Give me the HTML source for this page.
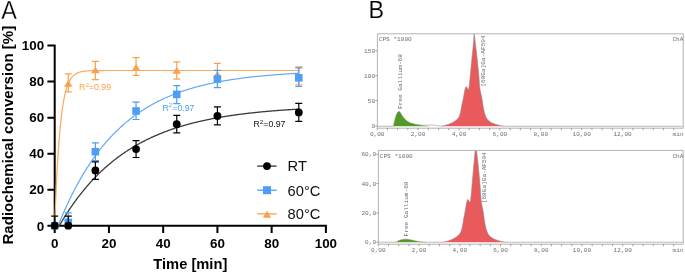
<!DOCTYPE html><html><head><meta charset="utf-8"><style>html,body{margin:0;padding:0;background:#fff;}svg{display:block;will-change:transform;}</style></head><body>
<svg width="685" height="275" viewBox="0 0 685 275">
<rect width="685" height="275" fill="#fff"/>
<text transform="translate(1.2,18.6) scale(0.92,1)" x="0" y="0" font-family="&quot;Liberation Sans&quot;, sans-serif" font-size="25.5" fill="#000" stroke="#fff" stroke-width="0.3">A</text>
<text transform="translate(13.1,135.15) rotate(-90)" text-anchor="middle" font-family="&quot;Liberation Sans&quot;, sans-serif" font-weight="bold" font-size="15.1" fill="#000">Radiochemical conversion [%]</text>
<text x="190.3" y="269.3" text-anchor="middle" font-family="&quot;Liberation Sans&quot;, sans-serif" font-weight="bold" font-size="14.7" fill="#000">Time [min]</text>
<path d="M54.7,45.6 L54.7,225.7 L325.9,225.7 M48.4,225.7 L54.7,225.7 M48.4,189.68 L54.7,189.68 M48.4,153.66 L54.7,153.66 M48.4,117.64 L54.7,117.64 M48.4,81.62 L54.7,81.62 M48.4,45.6 L54.7,45.6 M54.7,225.7 L54.7,231.9 M108.94,225.7 L108.94,231.9 M163.18,225.7 L163.18,231.9 M217.42,225.7 L217.42,231.9 M271.66,225.7 L271.66,231.9 M325.9,225.7 L325.9,231.9" stroke="#000" stroke-width="2" fill="none" stroke-linecap="square"/>
<text x="44.2" y="230.5" text-anchor="end" font-family="&quot;Liberation Sans&quot;, sans-serif" font-weight="bold" font-size="13.4" fill="#000">0</text>
<text x="44.2" y="194.48" text-anchor="end" font-family="&quot;Liberation Sans&quot;, sans-serif" font-weight="bold" font-size="13.4" fill="#000">20</text>
<text x="44.2" y="158.46" text-anchor="end" font-family="&quot;Liberation Sans&quot;, sans-serif" font-weight="bold" font-size="13.4" fill="#000">40</text>
<text x="44.2" y="122.44" text-anchor="end" font-family="&quot;Liberation Sans&quot;, sans-serif" font-weight="bold" font-size="13.4" fill="#000">60</text>
<text x="44.2" y="86.42" text-anchor="end" font-family="&quot;Liberation Sans&quot;, sans-serif" font-weight="bold" font-size="13.4" fill="#000">80</text>
<text x="44.2" y="50.4" text-anchor="end" font-family="&quot;Liberation Sans&quot;, sans-serif" font-weight="bold" font-size="13.4" fill="#000">100</text>
<text x="54.7" y="247.8" text-anchor="middle" font-family="&quot;Liberation Sans&quot;, sans-serif" font-weight="bold" font-size="13.4" fill="#000">0</text>
<text x="108.94" y="247.8" text-anchor="middle" font-family="&quot;Liberation Sans&quot;, sans-serif" font-weight="bold" font-size="13.4" fill="#000">20</text>
<text x="163.18" y="247.8" text-anchor="middle" font-family="&quot;Liberation Sans&quot;, sans-serif" font-weight="bold" font-size="13.4" fill="#000">40</text>
<text x="217.42" y="247.8" text-anchor="middle" font-family="&quot;Liberation Sans&quot;, sans-serif" font-weight="bold" font-size="13.4" fill="#000">60</text>
<text x="271.66" y="247.8" text-anchor="middle" font-family="&quot;Liberation Sans&quot;, sans-serif" font-weight="bold" font-size="13.4" fill="#000">80</text>
<text x="325.9" y="247.8" text-anchor="middle" font-family="&quot;Liberation Sans&quot;, sans-serif" font-weight="bold" font-size="13.4" fill="#000">100</text>
<path d="M54.7,225.7 L54.84,221.85 L54.98,218.09 L55.11,214.43 L55.25,210.85 L55.39,207.37 L55.53,203.97 L55.67,200.66 L55.8,197.43 L55.94,194.28 L56.08,191.2 L56.22,188.21 L56.35,185.29 L56.49,182.44 L56.63,179.66 L56.77,176.95 L56.91,174.31 L57.04,171.73 L57.18,169.22 L57.32,166.77 L57.46,164.38 L57.6,162.05 L57.73,159.77 L57.87,157.56 L58.01,155.4 L58.15,153.29 L58.29,151.23 L58.42,149.23 L58.56,147.27 L58.7,145.37 L58.84,143.51 L58.97,141.7 L59.11,139.93 L59.25,138.21 L59.39,136.53 L59.53,134.89 L59.66,133.29 L59.8,131.73 L59.94,130.21 L60.08,128.73 L60.22,127.28 L60.35,125.87 L60.49,124.5 L60.63,123.16 L60.77,121.85 L60.91,120.58 L61.04,119.33 L61.18,118.12 L61.32,116.94 L61.46,115.79 L61.59,114.66 L61.73,113.57 L61.87,112.5 L62.01,111.46 L62.15,110.44 L62.28,109.45 L62.42,108.48 L62.56,107.54 L62.7,106.62 L62.84,105.72 L63.43,102.12 L64.02,98.89 L64.61,95.99 L65.2,93.39 L65.79,91.05 L66.38,88.95 L66.98,87.07 L67.57,85.37 L68.16,83.85 L68.75,82.49 L69.34,81.27 L69.93,80.17 L70.52,79.18 L71.11,78.29 L71.71,77.5 L72.3,76.78 L72.89,76.14 L73.48,75.57 L74.07,75.05 L74.66,74.59 L75.25,74.17 L75.85,73.79 L76.44,73.46 L77.03,73.16 L77.62,72.89 L78.21,72.64 L78.8,72.42 L79.39,72.23 L79.98,72.05 L80.58,71.9 L81.17,71.75 L81.76,71.63 L82.35,71.51 L82.94,71.41 L83.53,71.32 L84.12,71.23 L84.72,71.16 L85.31,71.09 L85.9,71.03 L86.49,70.98 L87.08,70.93 L87.67,70.89 L88.26,70.85 L88.85,70.81 L89.45,70.78 L90.04,70.76 L90.63,70.73 L91.22,70.71 L91.81,70.69 L92.4,70.67 L92.99,70.65 L93.59,70.64 L94.18,70.62 L94.77,70.61 L95.36,70.6 L95.95,70.59 L96.54,70.58 L97.13,70.58 L97.72,70.57 L98.32,70.56 L98.91,70.56 L99.5,70.55 L100.09,70.55 L100.68,70.54 L101.27,70.54 L101.86,70.54 L102.46,70.53 L103.05,70.53 L103.64,70.53 L104.23,70.53 L104.82,70.52 L105.41,70.52 L106,70.52 L106.6,70.52 L107.19,70.52 L107.78,70.52 L108.37,70.52 L108.96,70.52 L109.55,70.51 L110.14,70.51 L110.73,70.51 L111.33,70.51 L111.92,70.51 L112.51,70.51 L113.1,70.51 L113.69,70.51 L114.28,70.51 L114.87,70.51 L115.47,70.51 L116.06,70.51 L116.65,70.51 L117.24,70.51 L117.83,70.51 L118.42,70.51 L119.01,70.51 L119.6,70.51 L120.2,70.51 L120.79,70.51 L121.38,70.51 L121.97,70.51 L122.56,70.51 L123.15,70.51 L123.74,70.51 L124.34,70.51 L124.93,70.51 L125.52,70.51 L126.11,70.51 L126.7,70.51 L127.29,70.51 L127.88,70.51 L128.47,70.51 L129.07,70.51 L129.66,70.51 L130.25,70.51 L130.84,70.51 L131.43,70.51 L132.02,70.51 L132.61,70.51 L133.21,70.51 L133.8,70.51 L134.39,70.51 L134.98,70.51 L135.57,70.51 L136.16,70.51 L136.75,70.51 L137.34,70.51 L137.94,70.51 L138.53,70.51 L139.12,70.51 L139.71,70.51 L140.3,70.51 L140.89,70.51 L141.48,70.51 L142.08,70.51 L142.67,70.51 L143.26,70.51 L143.85,70.51 L144.44,70.51 L145.03,70.51 L145.62,70.51 L146.21,70.51 L146.81,70.51 L147.4,70.51 L147.99,70.51 L148.58,70.51 L149.17,70.51 L149.76,70.51 L150.35,70.51 L150.95,70.51 L151.54,70.51 L152.13,70.51 L152.72,70.51 L153.31,70.51 L153.9,70.51 L154.49,70.51 L155.08,70.51 L155.68,70.51 L156.27,70.51 L156.86,70.51 L157.45,70.51 L158.04,70.51 L158.63,70.51 L159.22,70.51 L159.82,70.51 L160.41,70.51 L161,70.51 L161.59,70.51 L162.18,70.51 L162.77,70.51 L163.36,70.51 L163.95,70.51 L164.55,70.51 L165.14,70.51 L165.73,70.51 L166.32,70.51 L166.91,70.51 L167.5,70.51 L168.09,70.51 L168.69,70.51 L169.28,70.51 L169.87,70.51 L170.46,70.51 L171.05,70.51 L171.64,70.51 L172.23,70.51 L172.82,70.51 L173.42,70.51 L174.01,70.51 L174.6,70.51 L175.19,70.51 L175.78,70.51 L176.37,70.51 L176.96,70.51 L177.56,70.51 L178.15,70.51 L178.74,70.51 L179.33,70.51 L179.92,70.51 L180.51,70.51 L181.1,70.51 L181.7,70.51 L182.29,70.51 L182.88,70.51 L183.47,70.51 L184.06,70.51 L184.65,70.51 L185.24,70.51 L185.83,70.51 L186.43,70.51 L187.02,70.51 L187.61,70.51 L188.2,70.51 L188.79,70.51 L189.38,70.51 L189.97,70.51 L190.57,70.51 L191.16,70.51 L191.75,70.51 L192.34,70.51 L192.93,70.51 L193.52,70.51 L194.11,70.51 L194.7,70.51 L195.3,70.51 L195.89,70.51 L196.48,70.51 L197.07,70.51 L197.66,70.51 L198.25,70.51 L198.84,70.51 L199.44,70.51 L200.03,70.51 L200.62,70.51 L201.21,70.51 L201.8,70.51 L202.39,70.51 L202.98,70.51 L203.57,70.51 L204.17,70.51 L204.76,70.51 L205.35,70.51 L205.94,70.51 L206.53,70.51 L207.12,70.51 L207.71,70.51 L208.31,70.51 L208.9,70.51 L209.49,70.51 L210.08,70.51 L210.67,70.51 L211.26,70.51 L211.85,70.51 L212.44,70.51 L213.04,70.51 L213.63,70.51 L214.22,70.51 L214.81,70.51 L215.4,70.51 L215.99,70.51 L216.58,70.51 L217.18,70.51 L217.77,70.51 L218.36,70.51 L218.95,70.51 L219.54,70.51 L220.13,70.51 L220.72,70.51 L221.31,70.51 L221.91,70.51 L222.5,70.51 L223.09,70.51 L223.68,70.51 L224.27,70.51 L224.86,70.51 L225.45,70.51 L226.05,70.51 L226.64,70.51 L227.23,70.51 L227.82,70.51 L228.41,70.51 L229,70.51 L229.59,70.51 L230.18,70.51 L230.78,70.51 L231.37,70.51 L231.96,70.51 L232.55,70.51 L233.14,70.51 L233.73,70.51 L234.32,70.51 L234.92,70.51 L235.51,70.51 L236.1,70.51 L236.69,70.51 L237.28,70.51 L237.87,70.51 L238.46,70.51 L239.05,70.51 L239.65,70.51 L240.24,70.51 L240.83,70.51 L241.42,70.51 L242.01,70.51 L242.6,70.51 L243.19,70.51 L243.79,70.51 L244.38,70.51 L244.97,70.51 L245.56,70.51 L246.15,70.51 L246.74,70.51 L247.33,70.51 L247.92,70.51 L248.52,70.51 L249.11,70.51 L249.7,70.51 L250.29,70.51 L250.88,70.51 L251.47,70.51 L252.06,70.51 L252.66,70.51 L253.25,70.51 L253.84,70.51 L254.43,70.51 L255.02,70.51 L255.61,70.51 L256.2,70.51 L256.79,70.51 L257.39,70.51 L257.98,70.51 L258.57,70.51 L259.16,70.51 L259.75,70.51 L260.34,70.51 L260.93,70.51 L261.53,70.51 L262.12,70.51 L262.71,70.51 L263.3,70.51 L263.89,70.51 L264.48,70.51 L265.07,70.51 L265.67,70.51 L266.26,70.51 L266.85,70.51 L267.44,70.51 L268.03,70.51 L268.62,70.51 L269.21,70.51 L269.8,70.51 L270.4,70.51 L270.99,70.51 L271.58,70.51 L272.17,70.51 L272.76,70.51 L273.35,70.51 L273.94,70.51 L274.54,70.51 L275.13,70.51 L275.72,70.51 L276.31,70.51 L276.9,70.51 L277.49,70.51 L278.08,70.51 L278.67,70.51 L279.27,70.51 L279.86,70.51 L280.45,70.51 L281.04,70.51 L281.63,70.51 L282.22,70.51 L282.81,70.51 L283.41,70.51 L284,70.51 L284.59,70.51 L285.18,70.51 L285.77,70.51 L286.36,70.51 L286.95,70.51 L287.54,70.51 L288.14,70.51 L288.73,70.51 L289.32,70.51 L289.91,70.51 L290.5,70.51 L291.09,70.51 L291.68,70.51 L292.28,70.51 L292.87,70.51 L293.46,70.51 L294.05,70.51 L294.64,70.51 L295.23,70.51 L295.82,70.51 L296.41,70.51 L297.01,70.51 L297.6,70.51 L298.19,70.51 L298.78,70.51" stroke="#f9aa5c" stroke-width="1.2" fill="none"/>
<path d="M54.7,225.7 L54.84,225.7 L54.98,225.7 L55.11,225.7 L55.25,225.7 L55.39,225.7 L55.53,225.7 L55.67,225.7 L55.8,225.7 L55.94,225.7 L56.08,225.7 L56.22,225.7 L56.35,225.7 L56.49,225.7 L56.63,225.7 L56.77,225.7 L56.91,225.7 L57.04,225.7 L57.18,225.7 L57.32,225.7 L57.46,225.7 L57.6,225.7 L57.73,225.7 L57.87,225.7 L58.01,225.7 L58.11,225.7 L58.15,225.61 L58.29,225.27 L58.42,224.92 L58.56,224.58 L58.7,224.24 L58.84,223.9 L58.97,223.56 L59.11,223.22 L59.25,222.89 L59.39,222.55 L59.53,222.21 L59.66,221.88 L59.8,221.54 L59.94,221.21 L60.08,220.87 L60.22,220.54 L60.35,220.21 L60.49,219.88 L60.63,219.55 L60.77,219.22 L60.91,218.89 L61.04,218.56 L61.18,218.23 L61.32,217.9 L61.46,217.58 L61.59,217.25 L61.73,216.93 L61.87,216.6 L62.01,216.28 L62.15,215.96 L62.28,215.63 L62.42,215.31 L62.56,214.99 L62.7,214.67 L62.84,214.35 L63.43,212.99 L64.02,211.64 L64.61,210.31 L65.2,208.99 L65.79,207.68 L66.38,206.38 L66.98,205.09 L67.57,203.82 L68.16,202.56 L68.75,201.31 L69.34,200.07 L69.93,198.84 L70.52,197.63 L71.11,196.43 L71.71,195.23 L72.3,194.05 L72.89,192.88 L73.48,191.72 L74.07,190.58 L74.66,189.44 L75.25,188.31 L75.85,187.2 L76.44,186.09 L77.03,185 L77.62,183.92 L78.21,182.84 L78.8,181.78 L79.39,180.72 L79.98,179.68 L80.58,178.65 L81.17,177.62 L81.76,176.61 L82.35,175.6 L82.94,174.61 L83.53,173.62 L84.12,172.64 L84.72,171.68 L85.31,170.72 L85.9,169.77 L86.49,168.83 L87.08,167.89 L87.67,166.97 L88.26,166.06 L88.85,165.15 L89.45,164.25 L90.04,163.37 L90.63,162.49 L91.22,161.61 L91.81,160.75 L92.4,159.89 L92.99,159.05 L93.59,158.21 L94.18,157.38 L94.77,156.55 L95.36,155.74 L95.95,154.93 L96.54,154.13 L97.13,153.33 L97.72,152.55 L98.32,151.77 L98.91,151 L99.5,150.23 L100.09,149.48 L100.68,148.73 L101.27,147.99 L101.86,147.25 L102.46,146.52 L103.05,145.8 L103.64,145.09 L104.23,144.38 L104.82,143.68 L105.41,142.98 L106,142.29 L106.6,141.61 L107.19,140.94 L107.78,140.27 L108.37,139.61 L108.96,138.95 L109.55,138.3 L110.14,137.66 L110.73,137.02 L111.33,136.39 L111.92,135.76 L112.51,135.14 L113.1,134.53 L113.69,133.92 L114.28,133.31 L114.87,132.72 L115.47,132.13 L116.06,131.54 L116.65,130.96 L117.24,130.38 L117.83,129.82 L118.42,129.25 L119.01,128.69 L119.6,128.14 L120.2,127.59 L120.79,127.05 L121.38,126.51 L121.97,125.98 L122.56,125.45 L123.15,124.93 L123.74,124.41 L124.34,123.89 L124.93,123.39 L125.52,122.88 L126.11,122.38 L126.7,121.89 L127.29,121.4 L127.88,120.92 L128.47,120.44 L129.07,119.96 L129.66,119.49 L130.25,119.02 L130.84,118.56 L131.43,118.1 L132.02,117.65 L132.61,117.2 L133.21,116.75 L133.8,116.31 L134.39,115.88 L134.98,115.44 L135.57,115.01 L136.16,114.59 L136.75,114.17 L137.34,113.75 L137.94,113.34 L138.53,112.93 L139.12,112.53 L139.71,112.13 L140.3,111.73 L140.89,111.33 L141.48,110.94 L142.08,110.56 L142.67,110.18 L143.26,109.8 L143.85,109.42 L144.44,109.05 L145.03,108.68 L145.62,108.32 L146.21,107.96 L146.81,107.6 L147.4,107.24 L147.99,106.89 L148.58,106.54 L149.17,106.2 L149.76,105.86 L150.35,105.52 L150.95,105.18 L151.54,104.85 L152.13,104.52 L152.72,104.2 L153.31,103.87 L153.9,103.55 L154.49,103.24 L155.08,102.92 L155.68,102.61 L156.27,102.31 L156.86,102 L157.45,101.7 L158.04,101.4 L158.63,101.1 L159.22,100.81 L159.82,100.52 L160.41,100.23 L161,99.95 L161.59,99.66 L162.18,99.38 L162.77,99.11 L163.36,98.83 L163.95,98.56 L164.55,98.29 L165.14,98.02 L165.73,97.76 L166.32,97.5 L166.91,97.24 L167.5,96.98 L168.09,96.73 L168.69,96.47 L169.28,96.22 L169.87,95.98 L170.46,95.73 L171.05,95.49 L171.64,95.25 L172.23,95.01 L172.82,94.77 L173.42,94.54 L174.01,94.31 L174.6,94.08 L175.19,93.85 L175.78,93.63 L176.37,93.4 L176.96,93.18 L177.56,92.96 L178.15,92.75 L178.74,92.53 L179.33,92.32 L179.92,92.11 L180.51,91.9 L181.1,91.69 L181.7,91.49 L182.29,91.29 L182.88,91.09 L183.47,90.89 L184.06,90.69 L184.65,90.49 L185.24,90.3 L185.83,90.11 L186.43,89.92 L187.02,89.73 L187.61,89.54 L188.2,89.36 L188.79,89.18 L189.38,89 L189.97,88.82 L190.57,88.64 L191.16,88.46 L191.75,88.29 L192.34,88.12 L192.93,87.95 L193.52,87.78 L194.11,87.61 L194.7,87.44 L195.3,87.28 L195.89,87.11 L196.48,86.95 L197.07,86.79 L197.66,86.63 L198.25,86.48 L198.84,86.32 L199.44,86.17 L200.03,86.01 L200.62,85.86 L201.21,85.71 L201.8,85.56 L202.39,85.42 L202.98,85.27 L203.57,85.13 L204.17,84.99 L204.76,84.84 L205.35,84.7 L205.94,84.56 L206.53,84.43 L207.12,84.29 L207.71,84.16 L208.31,84.02 L208.9,83.89 L209.49,83.76 L210.08,83.63 L210.67,83.5 L211.26,83.37 L211.85,83.25 L212.44,83.12 L213.04,83 L213.63,82.87 L214.22,82.75 L214.81,82.63 L215.4,82.51 L215.99,82.39 L216.58,82.28 L217.18,82.16 L217.77,82.05 L218.36,81.93 L218.95,81.82 L219.54,81.71 L220.13,81.6 L220.72,81.49 L221.31,81.38 L221.91,81.27 L222.5,81.16 L223.09,81.06 L223.68,80.95 L224.27,80.85 L224.86,80.75 L225.45,80.65 L226.05,80.55 L226.64,80.45 L227.23,80.35 L227.82,80.25 L228.41,80.15 L229,80.06 L229.59,79.96 L230.18,79.87 L230.78,79.77 L231.37,79.68 L231.96,79.59 L232.55,79.5 L233.14,79.41 L233.73,79.32 L234.32,79.23 L234.92,79.15 L235.51,79.06 L236.1,78.97 L236.69,78.89 L237.28,78.8 L237.87,78.72 L238.46,78.64 L239.05,78.56 L239.65,78.48 L240.24,78.4 L240.83,78.32 L241.42,78.24 L242.01,78.16 L242.6,78.08 L243.19,78.01 L243.79,77.93 L244.38,77.86 L244.97,77.78 L245.56,77.71 L246.15,77.63 L246.74,77.56 L247.33,77.49 L247.92,77.42 L248.52,77.35 L249.11,77.28 L249.7,77.21 L250.29,77.14 L250.88,77.07 L251.47,77.01 L252.06,76.94 L252.66,76.88 L253.25,76.81 L253.84,76.75 L254.43,76.68 L255.02,76.62 L255.61,76.56 L256.2,76.49 L256.79,76.43 L257.39,76.37 L257.98,76.31 L258.57,76.25 L259.16,76.19 L259.75,76.13 L260.34,76.08 L260.93,76.02 L261.53,75.96 L262.12,75.9 L262.71,75.85 L263.3,75.79 L263.89,75.74 L264.48,75.68 L265.07,75.63 L265.67,75.58 L266.26,75.52 L266.85,75.47 L267.44,75.42 L268.03,75.37 L268.62,75.32 L269.21,75.27 L269.8,75.22 L270.4,75.17 L270.99,75.12 L271.58,75.07 L272.17,75.02 L272.76,74.97 L273.35,74.93 L273.94,74.88 L274.54,74.83 L275.13,74.79 L275.72,74.74 L276.31,74.7 L276.9,74.65 L277.49,74.61 L278.08,74.57 L278.67,74.52 L279.27,74.48 L279.86,74.44 L280.45,74.39 L281.04,74.35 L281.63,74.31 L282.22,74.27 L282.81,74.23 L283.41,74.19 L284,74.15 L284.59,74.11 L285.18,74.07 L285.77,74.03 L286.36,73.99 L286.95,73.96 L287.54,73.92 L288.14,73.88 L288.73,73.84 L289.32,73.81 L289.91,73.77 L290.5,73.74 L291.09,73.7 L291.68,73.67 L292.28,73.63 L292.87,73.6 L293.46,73.56 L294.05,73.53 L294.64,73.49 L295.23,73.46 L295.82,73.43 L296.41,73.4 L297.01,73.36 L297.6,73.33 L298.19,73.3 L298.78,73.27" stroke="#62a8f6" stroke-width="1.2" fill="none"/>
<path d="M54.7,225.7 L54.84,225.7 L54.98,225.7 L55.11,225.7 L55.25,225.7 L55.39,225.7 L55.53,225.7 L55.67,225.7 L55.8,225.7 L55.94,225.7 L56.08,225.7 L56.22,225.7 L56.35,225.7 L56.49,225.7 L56.63,225.7 L56.77,225.7 L56.91,225.7 L57.04,225.7 L57.18,225.7 L57.32,225.7 L57.46,225.7 L57.6,225.7 L57.73,225.7 L57.87,225.7 L58.01,225.7 L58.15,225.7 L58.29,225.7 L58.42,225.7 L58.56,225.7 L58.7,225.7 L58.84,225.7 L58.97,225.7 L59.11,225.7 L59.25,225.7 L59.29,225.7 L59.39,225.53 L59.53,225.29 L59.66,225.05 L59.8,224.82 L59.94,224.58 L60.08,224.35 L60.22,224.11 L60.35,223.88 L60.49,223.65 L60.63,223.41 L60.77,223.18 L60.91,222.95 L61.04,222.72 L61.18,222.48 L61.32,222.25 L61.46,222.02 L61.59,221.79 L61.73,221.56 L61.87,221.33 L62.01,221.11 L62.15,220.88 L62.28,220.65 L62.42,220.42 L62.56,220.2 L62.7,219.97 L62.84,219.74 L63.43,218.78 L64.02,217.82 L64.61,216.88 L65.2,215.94 L65.79,215 L66.38,214.08 L66.98,213.16 L67.57,212.25 L68.16,211.35 L68.75,210.46 L69.34,209.57 L69.93,208.7 L70.52,207.82 L71.11,206.96 L71.71,206.1 L72.3,205.26 L72.89,204.41 L73.48,203.58 L74.07,202.75 L74.66,201.93 L75.25,201.11 L75.85,200.31 L76.44,199.51 L77.03,198.71 L77.62,197.93 L78.21,197.15 L78.8,196.37 L79.39,195.6 L79.98,194.84 L80.58,194.09 L81.17,193.34 L81.76,192.6 L82.35,191.86 L82.94,191.13 L83.53,190.41 L84.12,189.69 L84.72,188.98 L85.31,188.28 L85.9,187.58 L86.49,186.89 L87.08,186.2 L87.67,185.52 L88.26,184.84 L88.85,184.17 L89.45,183.51 L90.04,182.85 L90.63,182.19 L91.22,181.54 L91.81,180.9 L92.4,180.27 L92.99,179.63 L93.59,179.01 L94.18,178.39 L94.77,177.77 L95.36,177.16 L95.95,176.55 L96.54,175.95 L97.13,175.36 L97.72,174.77 L98.32,174.18 L98.91,173.6 L99.5,173.03 L100.09,172.45 L100.68,171.89 L101.27,171.33 L101.86,170.77 L102.46,170.22 L103.05,169.67 L103.64,169.13 L104.23,168.59 L104.82,168.06 L105.41,167.53 L106,167 L106.6,166.48 L107.19,165.97 L107.78,165.46 L108.37,164.95 L108.96,164.45 L109.55,163.95 L110.14,163.45 L110.73,162.96 L111.33,162.48 L111.92,161.99 L112.51,161.52 L113.1,161.04 L113.69,160.57 L114.28,160.11 L114.87,159.64 L115.47,159.19 L116.06,158.73 L116.65,158.28 L117.24,157.83 L117.83,157.39 L118.42,156.95 L119.01,156.52 L119.6,156.08 L120.2,155.66 L120.79,155.23 L121.38,154.81 L121.97,154.39 L122.56,153.98 L123.15,153.57 L123.74,153.16 L124.34,152.76 L124.93,152.36 L125.52,151.96 L126.11,151.57 L126.7,151.18 L127.29,150.79 L127.88,150.41 L128.47,150.03 L129.07,149.65 L129.66,149.27 L130.25,148.9 L130.84,148.54 L131.43,148.17 L132.02,147.81 L132.61,147.45 L133.21,147.09 L133.8,146.74 L134.39,146.39 L134.98,146.05 L135.57,145.7 L136.16,145.36 L136.75,145.02 L137.34,144.69 L137.94,144.36 L138.53,144.03 L139.12,143.7 L139.71,143.37 L140.3,143.05 L140.89,142.73 L141.48,142.42 L142.08,142.11 L142.67,141.8 L143.26,141.49 L143.85,141.18 L144.44,140.88 L145.03,140.58 L145.62,140.28 L146.21,139.99 L146.81,139.69 L147.4,139.4 L147.99,139.11 L148.58,138.83 L149.17,138.55 L149.76,138.27 L150.35,137.99 L150.95,137.71 L151.54,137.44 L152.13,137.17 L152.72,136.9 L153.31,136.63 L153.9,136.37 L154.49,136.1 L155.08,135.84 L155.68,135.59 L156.27,135.33 L156.86,135.08 L157.45,134.82 L158.04,134.58 L158.63,134.33 L159.22,134.08 L159.82,133.84 L160.41,133.6 L161,133.36 L161.59,133.12 L162.18,132.89 L162.77,132.65 L163.36,132.42 L163.95,132.19 L164.55,131.97 L165.14,131.74 L165.73,131.52 L166.32,131.3 L166.91,131.08 L167.5,130.86 L168.09,130.64 L168.69,130.43 L169.28,130.22 L169.87,130.01 L170.46,129.8 L171.05,129.59 L171.64,129.38 L172.23,129.18 L172.82,128.98 L173.42,128.78 L174.01,128.58 L174.6,128.38 L175.19,128.19 L175.78,128 L176.37,127.8 L176.96,127.61 L177.56,127.42 L178.15,127.24 L178.74,127.05 L179.33,126.87 L179.92,126.69 L180.51,126.5 L181.1,126.33 L181.7,126.15 L182.29,125.97 L182.88,125.8 L183.47,125.62 L184.06,125.45 L184.65,125.28 L185.24,125.11 L185.83,124.94 L186.43,124.78 L187.02,124.61 L187.61,124.45 L188.2,124.29 L188.79,124.13 L189.38,123.97 L189.97,123.81 L190.57,123.65 L191.16,123.5 L191.75,123.34 L192.34,123.19 L192.93,123.04 L193.52,122.89 L194.11,122.74 L194.7,122.59 L195.3,122.45 L195.89,122.3 L196.48,122.16 L197.07,122.01 L197.66,121.87 L198.25,121.73 L198.84,121.59 L199.44,121.46 L200.03,121.32 L200.62,121.18 L201.21,121.05 L201.8,120.91 L202.39,120.78 L202.98,120.65 L203.57,120.52 L204.17,120.39 L204.76,120.26 L205.35,120.14 L205.94,120.01 L206.53,119.89 L207.12,119.76 L207.71,119.64 L208.31,119.52 L208.9,119.4 L209.49,119.28 L210.08,119.16 L210.67,119.04 L211.26,118.93 L211.85,118.81 L212.44,118.7 L213.04,118.58 L213.63,118.47 L214.22,118.36 L214.81,118.25 L215.4,118.14 L215.99,118.03 L216.58,117.92 L217.18,117.81 L217.77,117.71 L218.36,117.6 L218.95,117.5 L219.54,117.39 L220.13,117.29 L220.72,117.19 L221.31,117.09 L221.91,116.99 L222.5,116.89 L223.09,116.79 L223.68,116.69 L224.27,116.6 L224.86,116.5 L225.45,116.41 L226.05,116.31 L226.64,116.22 L227.23,116.12 L227.82,116.03 L228.41,115.94 L229,115.85 L229.59,115.76 L230.18,115.67 L230.78,115.58 L231.37,115.5 L231.96,115.41 L232.55,115.32 L233.14,115.24 L233.73,115.15 L234.32,115.07 L234.92,114.99 L235.51,114.91 L236.1,114.82 L236.69,114.74 L237.28,114.66 L237.87,114.58 L238.46,114.5 L239.05,114.43 L239.65,114.35 L240.24,114.27 L240.83,114.19 L241.42,114.12 L242.01,114.04 L242.6,113.97 L243.19,113.89 L243.79,113.82 L244.38,113.75 L244.97,113.68 L245.56,113.61 L246.15,113.53 L246.74,113.46 L247.33,113.4 L247.92,113.33 L248.52,113.26 L249.11,113.19 L249.7,113.12 L250.29,113.06 L250.88,112.99 L251.47,112.92 L252.06,112.86 L252.66,112.79 L253.25,112.73 L253.84,112.67 L254.43,112.6 L255.02,112.54 L255.61,112.48 L256.2,112.42 L256.79,112.36 L257.39,112.3 L257.98,112.24 L258.57,112.18 L259.16,112.12 L259.75,112.06 L260.34,112 L260.93,111.95 L261.53,111.89 L262.12,111.83 L262.71,111.78 L263.3,111.72 L263.89,111.67 L264.48,111.61 L265.07,111.56 L265.67,111.51 L266.26,111.45 L266.85,111.4 L267.44,111.35 L268.03,111.3 L268.62,111.24 L269.21,111.19 L269.8,111.14 L270.4,111.09 L270.99,111.04 L271.58,110.99 L272.17,110.95 L272.76,110.9 L273.35,110.85 L273.94,110.8 L274.54,110.75 L275.13,110.71 L275.72,110.66 L276.31,110.61 L276.9,110.57 L277.49,110.52 L278.08,110.48 L278.67,110.43 L279.27,110.39 L279.86,110.35 L280.45,110.3 L281.04,110.26 L281.63,110.22 L282.22,110.18 L282.81,110.13 L283.41,110.09 L284,110.05 L284.59,110.01 L285.18,109.97 L285.77,109.93 L286.36,109.89 L286.95,109.85 L287.54,109.81 L288.14,109.77 L288.73,109.73 L289.32,109.7 L289.91,109.66 L290.5,109.62 L291.09,109.58 L291.68,109.55 L292.28,109.51 L292.87,109.47 L293.46,109.44 L294.05,109.4 L294.64,109.37 L295.23,109.33 L295.82,109.3 L296.41,109.26 L297.01,109.23 L297.6,109.19 L298.19,109.16 L298.78,109.13" stroke="#3a3a3a" stroke-width="1.3" fill="none"/>
<path d="M68.26,73.8 L68.26,91.9 M64.76,73.8 L71.76,73.8 M64.76,91.9 L71.76,91.9" stroke="#f9a24b" stroke-width="1.2" fill="none"/>
<path d="M95.38,61.3 L95.38,79.6 M91.88,61.3 L98.88,61.3 M91.88,79.6 L98.88,79.6" stroke="#f9a24b" stroke-width="1.2" fill="none"/>
<path d="M136.06,57.7 L136.06,75.4 M132.56,57.7 L139.56,57.7 M132.56,75.4 L139.56,75.4" stroke="#f9a24b" stroke-width="1.2" fill="none"/>
<path d="M176.74,61.9 L176.74,79.2 M173.24,61.9 L180.24,61.9 M173.24,79.2 L180.24,79.2" stroke="#f9a24b" stroke-width="1.2" fill="none"/>
<path d="M217.42,63.4 L217.42,87.5 M213.92,63.4 L220.92,63.4 M213.92,87.5 L220.92,87.5" stroke="#f9a24b" stroke-width="1.2" fill="none"/>
<path d="M298.78,66.8 L298.78,84.8 M295.28,66.8 L302.28,66.8 M295.28,84.8 L302.28,84.8" stroke="#f9a24b" stroke-width="1.2" fill="none"/>
<path d="M68.26,80.15 L72.56,86.85 L63.96,86.85 Z" fill="#f9a24b"/>
<path d="M95.38,66.65 L99.68,73.35 L91.08,73.35 Z" fill="#f9a24b"/>
<path d="M136.06,63.95 L140.36,70.65 L131.76,70.65 Z" fill="#f9a24b"/>
<path d="M176.74,67.05 L181.04,73.75 L172.44,73.75 Z" fill="#f9a24b"/>
<path d="M217.42,70.95 L221.72,77.65 L213.12,77.65 Z" fill="#f9a24b"/>
<path d="M54.7,222.35 L59,229.05 L50.4,229.05 Z" fill="#f9a24b"/>
<path d="M68.26,212.9 L68.26,222 M64.76,212.9 L71.76,212.9" stroke="#4f9ef5" stroke-width="1.2" fill="none"/>
<path d="M95.38,142.8 L95.38,160.7 M91.88,142.8 L98.88,142.8 M91.88,160.7 L98.88,160.7" stroke="#4f9ef5" stroke-width="1.2" fill="none"/>
<path d="M136.06,102.1 L136.06,119.5 M132.56,102.1 L139.56,102.1 M132.56,119.5 L139.56,119.5" stroke="#4f9ef5" stroke-width="1.2" fill="none"/>
<path d="M176.74,85.6 L176.74,103.6 M173.24,85.6 L180.24,85.6 M173.24,103.6 L180.24,103.6" stroke="#4f9ef5" stroke-width="1.2" fill="none"/>
<path d="M217.42,70.4 L217.42,87.6 M213.92,70.4 L220.92,70.4 M213.92,87.6 L220.92,87.6" stroke="#4f9ef5" stroke-width="1.2" fill="none"/>
<path d="M298.78,67.9 L298.78,86.5 M295.28,67.9 L302.28,67.9 M295.28,86.5 L302.28,86.5" stroke="#4f9ef5" stroke-width="1.2" fill="none"/>
<rect x="50.9" y="221.9" width="7.6" height="7.6" fill="#4f9ef5"/>
<rect x="64.46" y="218.6" width="7.6" height="7.6" fill="#4f9ef5"/>
<rect x="91.58" y="147.9" width="7.6" height="7.6" fill="#4f9ef5"/>
<rect x="132.26" y="107.2" width="7.6" height="7.6" fill="#4f9ef5"/>
<rect x="172.94" y="90.6" width="7.6" height="7.6" fill="#4f9ef5"/>
<rect x="213.62" y="75.2" width="7.6" height="7.6" fill="#4f9ef5"/>
<rect x="294.98" y="74" width="7.6" height="7.6" fill="#4f9ef5"/>
<path d="M54.7,216.2 L54.7,225.7 M51.2,216.2 L58.2,216.2" stroke="#000" stroke-width="1.2" fill="none"/>
<path d="M68.26,216.2 L68.26,225.7 M64.76,216.2 L71.76,216.2" stroke="#000" stroke-width="1.2" fill="none"/>
<path d="M95.38,161.8 L95.38,179.3 M91.88,161.8 L98.88,161.8 M91.88,179.3 L98.88,179.3" stroke="#000" stroke-width="1.2" fill="none"/>
<path d="M136.06,140.7 L136.06,157.5 M132.56,140.7 L139.56,140.7 M132.56,157.5 L139.56,157.5" stroke="#000" stroke-width="1.2" fill="none"/>
<path d="M176.74,115.3 L176.74,132.9 M173.24,115.3 L180.24,115.3 M173.24,132.9 L180.24,132.9" stroke="#000" stroke-width="1.2" fill="none"/>
<path d="M217.42,106.8 L217.42,124.9 M213.92,106.8 L220.92,106.8 M213.92,124.9 L220.92,124.9" stroke="#000" stroke-width="1.2" fill="none"/>
<path d="M298.78,103.3 L298.78,121.3 M295.28,103.3 L302.28,103.3 M295.28,121.3 L302.28,121.3" stroke="#000" stroke-width="1.2" fill="none"/>
<circle cx="54.7" cy="225.7" r="3.9" fill="#000"/>
<circle cx="68.26" cy="225.7" r="3.9" fill="#000"/>
<circle cx="95.38" cy="170.4" r="3.9" fill="#000"/>
<circle cx="136.06" cy="149.1" r="3.9" fill="#000"/>
<circle cx="176.74" cy="124.2" r="3.9" fill="#000"/>
<circle cx="217.42" cy="116" r="3.9" fill="#000"/>
<circle cx="298.78" cy="112.4" r="3.9" fill="#000"/>
<text x="79.1" y="90.2" font-family="&quot;Liberation Sans&quot;, sans-serif" font-size="8.8" fill="#f9a24b">R<tspan dy="-3.2" font-size="6.1">2</tspan><tspan dy="3.2">=0.99</tspan></text>
<text x="162.5" y="110.6" font-family="&quot;Liberation Sans&quot;, sans-serif" font-size="8.8" fill="#4f9ef5">R<tspan dy="-3.2" font-size="6.1">2</tspan><tspan dy="3.2">=0.97</tspan></text>
<text x="253.5" y="126.9" font-family="&quot;Liberation Sans&quot;, sans-serif" font-size="8.8" fill="#111">R<tspan dy="-3.2" font-size="6.1">2</tspan><tspan dy="3.2">=0.97</tspan></text>
<path d="M257.2,166.1 L276.6,166.1" stroke="#333" stroke-width="1.3"/>
<circle cx="267" cy="166.1" r="3.9" fill="#000"/>
<path d="M257.2,190.2 L276.6,190.2" stroke="#4f9ef5" stroke-width="1.3"/>
<rect x="263" y="186.2" width="8" height="8" fill="#4f9ef5"/>
<path d="M257.2,213.9 L276.6,213.9" stroke="#f9a24b" stroke-width="1.3"/>
<path d="M267,210.8 L271.2,217.8 L262.8,217.8 Z" fill="#f9a24b"/>
<text x="287.6" y="171.4" font-family="&quot;Liberation Sans&quot;, sans-serif" font-size="14.7" fill="#111">RT</text>
<text x="287.6" y="195.5" font-family="&quot;Liberation Sans&quot;, sans-serif" font-size="14.7" fill="#111">60°C</text>
<text x="287.6" y="219.2" font-family="&quot;Liberation Sans&quot;, sans-serif" font-size="14.7" fill="#111">80°C</text>
<text transform="translate(368.5,18.1) scale(0.95,1)" x="0" y="0" font-family="&quot;Liberation Sans&quot;, sans-serif" font-size="24.6" fill="#000" stroke="#fff" stroke-width="0.15">B</text>
<path d="M440,126.3 L440,126.3 L440.25,126.27 L440.5,126.25 L440.75,126.22 L441,126.18 L441.25,126.15 L441.5,126.11 L441.75,126.07 L442,126.03 L442.25,125.99 L442.5,125.95 L442.75,125.9 L443,125.86 L443.25,125.81 L443.5,125.76 L443.75,125.71 L444,125.65 L444.25,125.59 L444.5,125.53 L444.75,125.47 L445,125.4 L445.25,125.33 L445.5,125.26 L445.75,125.19 L446,125.11 L446.25,125.03 L446.5,124.96 L446.75,124.88 L447,124.8 L447.25,124.72 L447.5,124.63 L447.75,124.55 L448,124.46 L448.25,124.38 L448.5,124.29 L448.75,124.2 L449,124.1 L449.25,124.01 L449.5,123.91 L449.75,123.81 L450,123.71 L450.25,123.6 L450.5,123.49 L450.75,123.38 L451,123.27 L451.25,123.16 L451.5,123.04 L451.75,122.92 L452,122.8 L452.25,122.68 L452.5,122.55 L452.75,122.42 L453,122.29 L453.25,122.16 L453.5,122.02 L453.75,121.88 L454,121.74 L454.25,121.59 L454.5,121.43 L454.75,121.27 L455,121.1 L455.25,120.92 L455.5,120.73 L455.75,120.54 L456,120.34 L456.25,120.14 L456.5,119.93 L456.75,119.71 L457,119.48 L457.25,119.23 L457.5,118.97 L457.75,118.68 L458,118.38 L458.25,118.05 L458.5,117.69 L458.75,117.3 L459,116.88 L459.25,116.4 L459.5,115.76 L459.75,114.99 L460,114.11 L460.25,113.15 L460.5,112.14 L460.75,111.08 L461,109.85 L461.25,108.45 L461.5,106.99 L461.75,105.58 L462,104.32 L462.25,103.17 L462.5,102.07 L462.75,100.97 L463,99.8 L463.25,98.54 L463.5,97.23 L463.75,95.89 L464,94.55 L464.25,93.24 L464.5,91.86 L464.75,90.48 L465,89.29 L465.25,88.37 L465.5,87.61 L465.75,87.13 L466,86.81 L466.25,86.71 L466.5,86.86 L466.75,87.14 L467,87.52 L467.25,88.04 L467.5,88.5 L467.75,88.88 L468,89.21 L468.25,89.39 L468.5,89.25 L468.75,88.73 L469,87.82 L469.25,85.74 L469.5,83.41 L469.75,80.81 L470,78.31 L470.25,75.81 L470.5,73.25 L470.75,70.65 L471,68.02 L471.25,65.37 L471.5,62.63 L471.75,59.89 L472,57.3 L472.25,54.97 L472.5,52.79 L472.75,50.55 L473,48.08 L473.25,45.38 L473.5,42.5 L473.75,39.02 L474,34.83 L474.25,33.8 L474.5,35.12 L474.75,37.82 L475,40.29 L475.25,42.91 L475.5,45.1 L475.75,46.84 L476,48.55 L476.25,50.52 L476.5,52.7 L476.75,54.99 L477,57.3 L477.25,59.62 L477.5,61.99 L477.75,64.42 L478,66.89 L478.25,69.34 L478.5,71.85 L478.75,74.55 L479,77.63 L479.25,81.55 L479.5,85.16 L479.75,87.41 L480,89.12 L480.25,90.55 L480.5,91.81 L480.75,93.05 L481,94.26 L481.25,95.34 L481.5,96.39 L481.75,97.53 L482,98.88 L482.25,100.53 L482.5,102.31 L482.75,104 L483,105.49 L483.25,106.94 L483.5,108.33 L483.75,109.62 L484,110.78 L484.25,111.8 L484.5,112.77 L484.75,113.69 L485,114.54 L485.25,115.31 L485.5,116 L485.75,116.59 L486,117.1 L486.25,117.58 L486.5,118.02 L486.75,118.43 L487,118.82 L487.25,119.18 L487.5,119.51 L487.75,119.81 L488,120.09 L488.25,120.35 L488.5,120.59 L488.75,120.82 L489,121.03 L489.25,121.23 L489.5,121.42 L489.75,121.6 L490,121.77 L490.25,121.94 L490.5,122.09 L490.75,122.24 L491,122.38 L491.25,122.52 L491.5,122.65 L491.75,122.78 L492,122.9 L492.25,123.02 L492.5,123.13 L492.75,123.24 L493,123.35 L493.25,123.46 L493.5,123.56 L493.75,123.66 L494,123.75 L494.25,123.84 L494.5,123.93 L494.75,124.02 L495,124.11 L495.25,124.19 L495.5,124.27 L495.75,124.35 L496,124.42 L496.25,124.5 L496.5,124.58 L496.75,124.65 L497,124.73 L497.25,124.8 L497.5,124.87 L497.75,124.94 L498,125.01 L498.25,125.08 L498.5,125.14 L498.75,125.21 L499,125.27 L499.25,125.33 L499.5,125.39 L499.75,125.44 L500,125.49 L500.25,125.55 L500.5,125.59 L500.75,125.64 L501,125.68 L501.25,125.72 L501.5,125.76 L501.75,125.8 L502,125.84 L502.25,125.88 L502.5,125.92 L502.75,125.96 L503,125.99 L503.25,126.02 L503.5,126.06 L503.75,126.09 L504,126.12 L504.25,126.15 L504.5,126.17 L504.75,126.2 L505,126.22 L505.25,126.25 L505.5,126.27 L505.75,126.28 L506,126.3 L506,126.3 Z" fill="#e85a5c"/>
<path d="M391,126.3 L391,126.3 L391.25,126.3 L391.5,126.3 L391.75,126.3 L392,126.3 L392.25,126.3 L392.5,126.3 L392.75,126.3 L393,126.26 L393.25,125.87 L393.5,125.15 L393.75,124.21 L394,123.18 L394.25,122.16 L394.5,121.24 L394.75,120.24 L395,119.19 L395.25,118.15 L395.5,117.22 L395.75,116.45 L396,115.76 L396.25,115.12 L396.5,114.54 L396.75,113.99 L397,113.45 L397.25,112.94 L397.5,112.49 L397.75,112.15 L398,111.91 L398.25,111.7 L398.5,111.52 L398.75,111.42 L399,111.41 L399.25,111.5 L399.5,111.66 L399.75,111.87 L400,112.1 L400.25,112.4 L400.5,112.82 L400.75,113.29 L401,113.76 L401.25,114.18 L401.5,114.57 L401.75,114.96 L402,115.34 L402.25,115.71 L402.5,116.07 L402.75,116.43 L403,116.77 L403.25,117.1 L403.5,117.42 L403.75,117.74 L404,118.05 L404.25,118.35 L404.5,118.64 L404.75,118.93 L405,119.2 L405.25,119.46 L405.5,119.7 L405.75,119.93 L406,120.16 L406.25,120.37 L406.5,120.58 L406.75,120.78 L407,120.98 L407.25,121.16 L407.5,121.34 L407.75,121.5 L408,121.66 L408.25,121.82 L408.5,121.96 L408.75,122.1 L409,122.24 L409.25,122.37 L409.5,122.49 L409.75,122.6 L410,122.7 L410.25,122.79 L410.5,122.88 L410.75,122.97 L411,123.04 L411.25,123.12 L411.5,123.19 L411.75,123.26 L412,123.33 L412.25,123.4 L412.5,123.47 L412.75,123.54 L413,123.62 L413.25,123.69 L413.5,123.77 L413.75,123.84 L414,123.92 L414.25,123.99 L414.5,124.06 L414.75,124.12 L415,124.19 L415.25,124.25 L415.5,124.3 L415.75,124.35 L416,124.4 L416.25,124.44 L416.5,124.49 L416.75,124.53 L417,124.57 L417.25,124.61 L417.5,124.65 L417.75,124.68 L418,124.72 L418.25,124.76 L418.5,124.79 L418.75,124.83 L419,124.87 L419.25,124.91 L419.5,124.95 L419.75,124.99 L420,125.03 L420.25,125.07 L420.5,125.11 L420.75,125.15 L421,125.19 L421.25,125.23 L421.5,125.26 L421.75,125.3 L422,125.34 L422.25,125.38 L422.5,125.42 L422.75,125.45 L423,125.49 L423.25,125.52 L423.5,125.55 L423.75,125.58 L424,125.61 L424.25,125.64 L424.5,125.67 L424.75,125.7 L425,125.72 L425.25,125.75 L425.5,125.77 L425.75,125.8 L426,125.82 L426.25,125.85 L426.5,125.87 L426.75,125.89 L427,125.91 L427.25,125.94 L427.5,125.96 L427.75,125.98 L428,126 L428.25,126.02 L428.5,126.04 L428.75,126.06 L429,126.08 L429.25,126.1 L429.5,126.12 L429.75,126.14 L430,126.16 L430.25,126.18 L430.5,126.2 L430.75,126.22 L431,126.23 L431.25,126.25 L431.5,126.27 L431.75,126.28 L432,126.3 L432,126.3 Z" fill="#519a25"/>
<path d="M377.9,126.3 L392.9,126.3 L393.15,126.07 L393.4,125.47 L393.65,124.61 L393.9,123.6 L394.15,122.56 L394.4,121.6 L394.65,120.65 L394.9,119.61 L395.15,118.56 L395.4,117.58 L395.65,116.75 L395.9,116.03 L396.15,115.37 L396.4,114.76 L396.65,114.21 L396.9,113.67 L397.15,113.14 L397.4,112.66 L397.65,112.27 L397.9,112.01 L398.15,111.78 L398.4,111.59 L398.65,111.45 L398.9,111.4 L399.15,111.45 L399.4,111.59 L399.65,111.78 L399.9,112.01 L400.15,112.27 L400.4,112.64 L400.65,113.1 L400.9,113.57 L401.15,114.02 L401.4,114.41 L401.65,114.8 L401.9,115.19 L402.15,115.56 L402.4,115.93 L402.65,116.29 L402.9,116.63 L403.15,116.97 L403.4,117.29 L403.65,117.61 L403.9,117.92 L404.15,118.23 L404.4,118.53 L404.65,118.82 L404.9,119.09 L405.15,119.35 L405.4,119.6 L405.65,119.84 L405.9,120.07 L406.15,120.29 L406.4,120.5 L406.65,120.7 L406.9,120.9 L407.15,121.09 L407.4,121.27 L407.65,121.44 L407.9,121.6 L408.15,121.75 L408.4,121.9 L408.65,122.05 L408.9,122.19 L409.15,122.32 L409.4,122.44 L409.65,122.55 L409.9,122.66 L410.15,122.76 L410.4,122.85 L410.65,122.93 L410.9,123.01 L411.15,123.09 L411.4,123.16 L411.65,123.23 L411.9,123.3 L412.15,123.37 L412.4,123.44 L412.65,123.51 L412.9,123.59 L413.15,123.66 L413.4,123.74 L413.65,123.81 L413.9,123.89 L414.15,123.96 L414.4,124.03 L414.65,124.1 L414.9,124.16 L415.15,124.22 L415.4,124.28 L415.65,124.33 L415.9,124.38 L416.15,124.43 L416.4,124.47 L416.65,124.51 L416.9,124.55 L417.15,124.59 L417.4,124.63 L417.65,124.67 L417.9,124.71 L418.15,124.74 L418.4,124.78 L418.65,124.82 L418.9,124.85 L419.15,124.89 L419.4,124.93 L419.65,124.97 L419.9,125.01 L420.15,125.04 L420.4,125.07 L420.65,125.1 L420.9,125.13 L421.15,125.15 L421.4,125.17 L421.65,125.2 L421.9,125.22 L422.15,125.23 L422.4,125.25 L422.65,125.26 L422.9,125.28 L423.15,125.29 L423.4,125.3 L423.65,125.3 L423.9,125.31 L424.15,125.31 L424.4,125.31 L424.65,125.31 L424.9,125.3 L425.15,125.29 L425.4,125.28 L425.65,125.26 L425.9,125.24 L426.15,125.23 L426.4,125.21 L426.65,125.19 L426.9,125.17 L427.15,125.15 L427.4,125.13 L427.65,125.12 L427.9,125.1 L428.15,125.09 L428.4,125.08 L428.65,125.06 L428.9,125.04 L429.15,125.03 L429.4,125.01 L429.65,124.99 L429.9,124.98 L430.15,124.96 L430.4,124.95 L430.65,124.95 L430.9,124.95 L431.15,124.95 L431.4,124.96 L431.65,124.98 L431.9,125 L432.15,125.02 L432.4,125.03 L432.65,125.05 L432.9,125.07 L433.15,125.09 L433.4,125.12 L433.65,125.15 L433.9,125.17 L434.15,125.2 L434.4,125.23 L434.65,125.26 L434.9,125.29 L435.15,125.32 L435.4,125.35 L435.65,125.38 L435.9,125.42 L436.15,125.46 L436.4,125.49 L436.65,125.54 L436.9,125.58 L437.15,125.62 L437.4,125.66 L437.65,125.7 L437.9,125.74 L438.15,125.78 L438.4,125.82 L438.65,125.86 L438.9,125.89 L439.15,125.92 L439.4,125.95 L439.65,125.98 L439.9,126 L440.15,126.02 L440.4,126.02 L440.65,126.02 L440.9,126.01 L441.15,126 L441.4,125.99 L441.65,125.98 L441.9,125.96 L442.15,125.94 L442.4,125.92 L442.65,125.89 L442.9,125.87 L443.15,125.83 L443.4,125.78 L443.65,125.73 L443.9,125.67 L444.15,125.62 L444.4,125.56 L444.65,125.49 L444.9,125.43 L445.15,125.36 L445.4,125.29 L445.65,125.22 L445.9,125.14 L446.15,125.07 L446.4,124.99 L446.65,124.91 L446.9,124.83 L447.15,124.75 L447.4,124.67 L447.65,124.58 L447.9,124.5 L448.15,124.41 L448.4,124.32 L448.65,124.23 L448.9,124.14 L449.15,124.05 L449.4,123.95 L449.65,123.85 L449.9,123.75 L450.15,123.64 L450.4,123.54 L450.65,123.43 L450.9,123.32 L451.15,123.2 L451.4,123.09 L451.65,122.97 L451.9,122.85 L452.15,122.73 L452.4,122.6 L452.65,122.48 L452.9,122.35 L453.15,122.22 L453.4,122.08 L453.65,121.94 L453.9,121.8 L454.15,121.65 L454.4,121.49 L454.65,121.33 L454.9,121.17 L455.15,120.99 L455.4,120.81 L455.65,120.62 L455.9,120.42 L456.15,120.22 L456.4,120.01 L456.65,119.79 L456.9,119.57 L457.15,119.33 L457.4,119.07 L457.65,118.8 L457.9,118.5 L458.15,118.18 L458.4,117.84 L458.65,117.46 L458.9,117.05 L459.15,116.61 L459.4,116.03 L459.65,115.31 L459.9,114.48 L460.15,113.55 L460.4,112.55 L460.65,111.51 L460.9,110.37 L461.15,109.02 L461.4,107.57 L461.65,106.13 L461.9,104.8 L462.15,103.62 L462.4,102.51 L462.65,101.41 L462.9,100.28 L463.15,99.06 L463.4,97.76 L463.65,96.43 L463.9,95.08 L464.15,93.76 L464.4,92.42 L464.65,91.02 L464.9,89.73 L465.15,88.72 L465.4,87.89 L465.65,87.28 L465.9,86.92 L466.15,86.71 L466.4,86.78 L466.65,87.03 L466.9,87.34 L467.15,87.83 L467.4,88.34 L467.65,88.72 L467.9,89.09 L468.15,89.35 L468.4,89.36 L468.65,88.97 L468.9,88.3 L469.15,86.64 L469.4,84.39 L469.65,81.85 L469.9,79.3 L470.15,76.81 L470.4,74.28 L470.65,71.69 L470.9,69.07 L471.15,66.43 L471.4,63.73 L471.65,60.98 L471.9,58.31 L472.15,55.87 L472.4,53.66 L472.65,51.46 L472.9,49.1 L473.15,46.48 L473.4,43.68 L473.65,40.63 L473.9,36.39 L474.15,33.8 L474.4,34.19 L474.65,36.75 L474.9,39.26 L475.15,41.88 L475.4,44.3 L475.65,46.17 L475.9,47.85 L476.15,49.7 L476.4,51.81 L476.65,54.06 L476.9,56.38 L477.15,58.69 L477.4,61.04 L477.65,63.44 L477.9,65.9 L478.15,68.36 L478.4,70.83 L478.65,73.44 L478.9,76.3 L479.15,79.94 L479.4,83.85 L479.65,86.62 L479.9,88.48 L480.15,90 L480.4,91.32 L480.65,92.55 L480.9,93.8 L481.15,94.92 L481.4,95.97 L481.65,97.06 L481.9,98.3 L482.15,99.84 L482.4,101.6 L482.65,103.35 L482.9,104.89 L483.15,106.36 L483.4,107.78 L483.65,109.12 L483.9,110.33 L484.15,111.4 L484.4,112.39 L484.65,113.33 L484.9,114.21 L485.15,115.01 L485.4,115.74 L485.65,116.37 L485.9,116.9 L486.15,117.39 L486.4,117.85 L486.65,118.27 L486.9,118.67 L487.15,119.04 L487.4,119.38 L487.65,119.69 L487.9,119.98 L488.15,120.25 L488.4,120.5 L488.65,120.73 L488.9,120.95 L489.15,121.15 L489.4,121.35 L489.65,121.53 L489.9,121.71 L490.15,121.87 L490.4,122.03 L490.65,122.18 L490.9,122.33 L491.15,122.46 L491.4,122.6 L491.65,122.73 L491.9,122.85 L492.15,122.97 L492.4,123.09 L492.65,123.2 L492.9,123.31 L493.15,123.42 L493.4,123.52 L493.65,123.62 L493.9,123.71 L494.15,123.81 L494.4,123.9 L494.65,123.99 L494.9,124.07 L495.15,124.16 L495.4,124.24 L495.65,124.32 L495.9,124.39 L496.15,124.47 L496.4,124.55 L496.65,124.62 L496.9,124.7 L497.15,124.77 L497.4,124.84 L497.65,124.91 L497.9,124.98 L498.15,125.05 L498.4,125.12 L498.65,125.18 L498.9,125.24 L499.15,125.3 L499.4,125.36 L499.65,125.42 L499.9,125.47 L500.15,125.53 L500.4,125.57 L500.65,125.62 L500.9,125.67 L501.15,125.71 L501.4,125.75 L501.65,125.79 L501.9,125.83 L502.15,125.87 L502.4,125.9 L502.65,125.94 L502.9,125.98 L503.15,126.01 L503.4,126.04 L503.65,126.08 L503.9,126.11 L504.15,126.14 L504.4,126.16 L504.65,126.19 L504.9,126.21 L505.15,126.24 L505.4,126.26 L505.65,126.28 L505.9,126.29 L506.15,126.3 L682.65,126.3" stroke="#8c8c8c" stroke-width="0.6" fill="none"/>
<path d="M377.4,128.2 L377.4,33.8 L683.2,33.8 L683.2,128.2 Z" stroke="#b2b2b2" stroke-width="1" fill="none"/>
<path d="M377.2,128.2 L377.2,130.2 M387.43,128.2 L387.43,130.2 M397.65,128.2 L397.65,130.2 M407.88,128.2 L407.88,130.2 M418.1,128.2 L418.1,130.2 M428.32,128.2 L428.32,130.2 M438.55,128.2 L438.55,130.2 M448.77,128.2 L448.77,130.2 M459,128.2 L459,130.2 M469.22,128.2 L469.22,130.2 M479.45,128.2 L479.45,130.2 M489.67,128.2 L489.67,130.2 M499.9,128.2 L499.9,130.2 M510.12,128.2 L510.12,130.2 M520.35,128.2 L520.35,130.2 M530.58,128.2 L530.58,130.2 M540.8,128.2 L540.8,130.2 M551.02,128.2 L551.02,130.2 M561.25,128.2 L561.25,130.2 M571.48,128.2 L571.48,130.2 M581.7,128.2 L581.7,130.2 M591.92,128.2 L591.92,130.2 M602.15,128.2 L602.15,130.2 M612.38,128.2 L612.38,130.2 M622.6,128.2 L622.6,130.2 M632.83,128.2 L632.83,130.2 M643.05,128.2 L643.05,130.2 M653.27,128.2 L653.27,130.2 M663.5,128.2 L663.5,130.2 M673.72,128.2 L673.72,130.2" stroke="#888" stroke-width="0.8"/>
<path d="M375.4,50.8 L377.4,50.8 M375.4,75.6 L377.4,75.6 M375.4,100.6 L377.4,100.6 M375.4,126 L377.4,126" stroke="#888" stroke-width="0.8"/>
<text x="375.1" y="52.9" text-anchor="end" font-family="&quot;Liberation Mono&quot;, monospace" font-size="6.1" fill="#6e6e6e">150</text>
<text x="375.1" y="77.7" text-anchor="end" font-family="&quot;Liberation Mono&quot;, monospace" font-size="6.1" fill="#6e6e6e">100</text>
<text x="375.1" y="102.7" text-anchor="end" font-family="&quot;Liberation Mono&quot;, monospace" font-size="6.1" fill="#6e6e6e">50</text>
<text x="375.1" y="128.1" text-anchor="end" font-family="&quot;Liberation Mono&quot;, monospace" font-size="6.1" fill="#6e6e6e">0</text>
<text x="377.2" y="136" text-anchor="middle" font-family="&quot;Liberation Mono&quot;, monospace" font-size="6.1" fill="#6e6e6e">0,00</text>
<text x="418.1" y="136" text-anchor="middle" font-family="&quot;Liberation Mono&quot;, monospace" font-size="6.1" fill="#6e6e6e">2,00</text>
<text x="459" y="136" text-anchor="middle" font-family="&quot;Liberation Mono&quot;, monospace" font-size="6.1" fill="#6e6e6e">4,00</text>
<text x="499.9" y="136" text-anchor="middle" font-family="&quot;Liberation Mono&quot;, monospace" font-size="6.1" fill="#6e6e6e">6,00</text>
<text x="540.8" y="136" text-anchor="middle" font-family="&quot;Liberation Mono&quot;, monospace" font-size="6.1" fill="#6e6e6e">8,00</text>
<text x="581.7" y="136" text-anchor="middle" font-family="&quot;Liberation Mono&quot;, monospace" font-size="6.1" fill="#6e6e6e">10,00</text>
<text x="622.6" y="136" text-anchor="middle" font-family="&quot;Liberation Mono&quot;, monospace" font-size="6.1" fill="#6e6e6e">12,00</text>
<text x="672.6" y="136" font-family="&quot;Liberation Mono&quot;, monospace" font-size="6.1" fill="#6e6e6e">min</text>
<text x="378.8" y="40.9" font-family="&quot;Liberation Mono&quot;, monospace" font-size="6.1" fill="#6e6e6e">CPS *1000</text>
<text x="672.4" y="40.9" font-family="&quot;Liberation Mono&quot;, monospace" font-size="6.1" fill="#6e6e6e">ChA</text>
<text transform="translate(402,109) rotate(-90)" font-family="&quot;Liberation Mono&quot;, monospace" font-size="6.1" fill="#6e6e6e">Free Gallium-68</text>
<text transform="translate(485.3,86.6) rotate(-90)" font-family="&quot;Liberation Mono&quot;, monospace" font-size="6.1" fill="#6e6e6e">[68Ga]Ga-AF594</text>
<path d="M442.18,242.2 L442.18,242.2 L442.43,242.17 L442.68,242.14 L442.93,242.11 L443.18,242.07 L443.43,242.03 L443.68,241.99 L443.93,241.95 L444.18,241.91 L444.43,241.86 L444.68,241.81 L444.93,241.76 L445.18,241.71 L445.43,241.66 L445.68,241.6 L445.93,241.54 L446.18,241.48 L446.43,241.41 L446.68,241.34 L446.93,241.27 L447.18,241.2 L447.43,241.12 L447.68,241.04 L447.93,240.96 L448.18,240.88 L448.43,240.79 L448.68,240.7 L448.93,240.62 L449.18,240.53 L449.43,240.44 L449.68,240.34 L449.93,240.25 L450.18,240.16 L450.43,240.06 L450.68,239.96 L450.93,239.86 L451.18,239.75 L451.43,239.64 L451.68,239.53 L451.93,239.42 L452.18,239.31 L452.43,239.19 L452.68,239.07 L452.93,238.94 L453.18,238.82 L453.43,238.69 L453.68,238.56 L453.93,238.43 L454.18,238.29 L454.43,238.15 L454.68,238.01 L454.93,237.87 L455.18,237.72 L455.43,237.57 L455.68,237.41 L455.93,237.25 L456.18,237.09 L456.43,236.91 L456.68,236.73 L456.93,236.54 L457.18,236.34 L457.43,236.14 L457.68,235.92 L457.93,235.7 L458.18,235.47 L458.43,235.24 L458.68,234.99 L458.93,234.73 L459.18,234.46 L459.43,234.16 L459.68,233.84 L459.93,233.49 L460.18,233.11 L460.43,232.7 L460.68,232.25 L460.93,231.77 L461.18,231.15 L461.43,230.36 L461.68,229.44 L461.93,228.41 L462.18,227.31 L462.43,226.17 L462.68,224.9 L462.93,223.4 L463.18,221.79 L463.43,220.21 L463.68,218.77 L463.93,217.49 L464.18,216.27 L464.43,215.06 L464.68,213.79 L464.93,212.42 L465.18,210.98 L465.43,209.51 L465.68,208.03 L465.93,206.58 L466.18,205.06 L466.43,203.55 L466.68,202.23 L466.93,201.22 L467.18,200.39 L467.43,199.87 L467.68,199.53 L467.93,199.45 L468.18,199.64 L468.43,199.95 L468.68,200.4 L468.93,200.98 L469.18,201.46 L469.43,201.87 L469.68,202.22 L469.93,202.35 L470.18,202.06 L470.43,201.4 L470.68,200 L470.93,197.57 L471.18,194.85 L471.43,192.01 L471.68,189.27 L471.93,186.49 L472.18,183.65 L472.43,180.76 L472.68,177.86 L472.93,174.9 L473.18,171.86 L473.43,168.91 L473.68,166.21 L473.93,163.76 L474.18,161.35 L474.43,158.74 L474.68,155.84 L474.93,152.74 L475.18,150.4 L475.43,150.4 L475.68,150.4 L475.93,150.4 L476.18,150.4 L476.43,150.4 L476.68,151.64 L476.93,154.16 L477.18,156.13 L477.43,157.99 L477.68,160.13 L477.93,162.51 L478.18,165.03 L478.43,167.58 L478.68,170.14 L478.93,172.75 L479.18,175.42 L479.43,178.14 L479.68,180.84 L479.93,183.63 L480.18,186.62 L480.43,190.12 L480.68,194.49 L480.93,198.27 L481.18,200.57 L481.43,202.38 L481.68,203.9 L481.93,205.28 L482.18,206.65 L482.43,207.94 L482.68,209.11 L482.93,210.28 L483.18,211.6 L483.43,213.21 L483.68,215.11 L483.93,217.06 L484.18,218.81 L484.43,220.43 L484.68,222 L484.93,223.49 L485.18,224.84 L485.43,226.03 L485.68,227.13 L485.93,228.16 L486.18,229.13 L486.43,230.02 L486.68,230.82 L486.93,231.51 L487.18,232.09 L487.43,232.63 L487.68,233.12 L487.93,233.59 L488.18,234.02 L488.43,234.42 L488.68,234.79 L488.93,235.13 L489.18,235.45 L489.43,235.74 L489.68,236.01 L489.93,236.26 L490.18,236.49 L490.43,236.71 L490.68,236.92 L490.93,237.12 L491.18,237.31 L491.43,237.49 L491.68,237.66 L491.93,237.82 L492.18,237.98 L492.43,238.13 L492.68,238.27 L492.93,238.41 L493.18,238.55 L493.43,238.68 L493.68,238.8 L493.93,238.93 L494.18,239.04 L494.43,239.16 L494.68,239.27 L494.93,239.38 L495.18,239.48 L495.43,239.58 L495.68,239.68 L495.93,239.77 L496.18,239.87 L496.43,239.96 L496.68,240.04 L496.93,240.13 L497.18,240.22 L497.43,240.3 L497.68,240.38 L497.93,240.47 L498.18,240.55 L498.43,240.63 L498.68,240.7 L498.93,240.78 L499.18,240.85 L499.43,240.93 L499.68,241 L499.93,241.07 L500.18,241.13 L500.43,241.2 L500.68,241.26 L500.93,241.32 L501.18,241.37 L501.43,241.43 L501.68,241.48 L501.93,241.53 L502.18,241.57 L502.43,241.62 L502.68,241.66 L502.93,241.71 L503.18,241.75 L503.43,241.79 L503.68,241.83 L503.93,241.87 L504.18,241.9 L504.43,241.94 L504.68,241.98 L504.93,242.01 L505.18,242.04 L505.43,242.07 L505.68,242.1 L505.93,242.12 L506.18,242.15 L506.43,242.17 L506.68,242.19 L506.68,242.2 Z" fill="#e85a5c"/>
<path d="M393,242.2 L393,242.2 L393.25,242.2 L393.5,242.2 L393.75,242.2 L394,242.2 L394.25,242.2 L394.5,242.2 L394.75,242.2 L395,242.2 L395.25,242.2 L395.5,242.2 L395.75,242.2 L396,242.19 L396.25,242.12 L396.5,241.99 L396.75,241.82 L397,241.63 L397.25,241.45 L397.5,241.3 L397.75,241.17 L398,241.03 L398.25,240.89 L398.5,240.76 L398.75,240.63 L399,240.51 L399.25,240.4 L399.5,240.3 L399.75,240.21 L400,240.12 L400.25,240.04 L400.5,239.96 L400.75,239.88 L401,239.81 L401.25,239.74 L401.5,239.69 L401.75,239.64 L402,239.6 L402.25,239.57 L402.5,239.53 L402.75,239.5 L403,239.47 L403.25,239.44 L403.5,239.42 L403.75,239.39 L404,239.37 L404.25,239.35 L404.5,239.33 L404.75,239.32 L405,239.31 L405.25,239.3 L405.5,239.3 L405.75,239.3 L406,239.31 L406.25,239.31 L406.5,239.32 L406.75,239.33 L407,239.34 L407.25,239.36 L407.5,239.37 L407.75,239.38 L408,239.4 L408.25,239.42 L408.5,239.45 L408.75,239.48 L409,239.51 L409.25,239.56 L409.5,239.6 L409.75,239.65 L410,239.7 L410.25,239.75 L410.5,239.8 L410.75,239.85 L411,239.9 L411.25,239.95 L411.5,240 L411.75,240.06 L412,240.12 L412.25,240.18 L412.5,240.24 L412.75,240.3 L413,240.37 L413.25,240.43 L413.5,240.49 L413.75,240.54 L414,240.6 L414.25,240.65 L414.5,240.71 L414.75,240.76 L415,240.81 L415.25,240.86 L415.5,240.91 L415.75,240.96 L416,241.01 L416.25,241.06 L416.5,241.11 L416.75,241.16 L417,241.2 L417.25,241.24 L417.5,241.29 L417.75,241.33 L418,241.37 L418.25,241.42 L418.5,241.46 L418.75,241.5 L419,241.53 L419.25,241.57 L419.5,241.6 L419.75,241.63 L420,241.66 L420.25,241.69 L420.5,241.72 L420.75,241.75 L421,241.77 L421.25,241.8 L421.5,241.82 L421.75,241.85 L422,241.87 L422.25,241.89 L422.5,241.91 L422.75,241.93 L423,241.95 L423.25,241.97 L423.5,241.98 L423.75,242 L424,242.02 L424.25,242.03 L424.5,242.05 L424.75,242.06 L425,242.08 L425.25,242.09 L425.5,242.1 L425.75,242.12 L426,242.13 L426.25,242.14 L426.5,242.15 L426.75,242.16 L427,242.17 L427.25,242.18 L427.5,242.19 L427.75,242.19 L428,242.2 L428,242.2 Z" fill="#519a25"/>
<path d="M378.9,242.2 L395.9,242.2 L396.15,242.16 L396.4,242.05 L396.65,241.89 L396.9,241.71 L397.15,241.52 L397.4,241.36 L397.65,241.22 L397.9,241.08 L398.15,240.95 L398.4,240.81 L398.65,240.68 L398.9,240.56 L399.15,240.44 L399.4,240.34 L399.65,240.25 L399.9,240.16 L400.15,240.07 L400.4,239.99 L400.65,239.91 L400.9,239.84 L401.15,239.77 L401.4,239.71 L401.65,239.66 L401.9,239.61 L402.15,239.58 L402.4,239.55 L402.65,239.51 L402.9,239.48 L403.15,239.45 L403.4,239.43 L403.65,239.4 L403.9,239.38 L404.15,239.36 L404.4,239.34 L404.65,239.32 L404.9,239.31 L405.15,239.3 L405.4,239.3 L405.65,239.3 L405.9,239.3 L406.15,239.31 L406.4,239.32 L406.65,239.33 L406.9,239.34 L407.15,239.35 L407.4,239.36 L407.65,239.38 L407.9,239.39 L408.15,239.41 L408.4,239.43 L408.65,239.46 L408.9,239.5 L409.15,239.54 L409.4,239.58 L409.65,239.63 L409.9,239.68 L410.15,239.73 L410.4,239.78 L410.65,239.83 L410.9,239.88 L411.15,239.93 L411.4,239.98 L411.65,240.04 L411.9,240.1 L412.15,240.16 L412.4,240.22 L412.65,240.28 L412.9,240.34 L413.15,240.4 L413.4,240.46 L413.65,240.52 L413.9,240.58 L414.15,240.63 L414.4,240.69 L414.65,240.74 L414.9,240.79 L415.15,240.84 L415.4,240.89 L415.65,240.94 L415.9,240.99 L416.15,241.04 L416.4,241.09 L416.65,241.14 L416.9,241.18 L417.15,241.23 L417.4,241.27 L417.65,241.31 L417.9,241.36 L418.15,241.4 L418.4,241.44 L418.65,241.48 L418.9,241.52 L419.15,241.55 L419.4,241.59 L419.65,241.62 L419.9,241.65 L420.15,241.68 L420.4,241.71 L420.65,241.74 L420.9,241.76 L421.15,241.79 L421.4,241.81 L421.65,241.84 L421.9,241.86 L422.15,241.88 L422.4,241.91 L422.65,241.92 L422.9,241.94 L423.15,241.96 L423.4,241.98 L423.65,241.99 L423.9,242.01 L424.15,242.03 L424.4,242.04 L424.65,242.06 L424.9,242.07 L425.15,242.09 L425.4,242.1 L425.65,242.11 L425.9,242.12 L426.15,242.14 L426.4,242.15 L426.65,242.16 L426.9,242.17 L427.15,242.18 L427.4,242.18 L427.65,242.19 L427.9,242.2 L428.15,242.2 L442.15,242.2 L442.4,242.18 L442.65,242.15 L442.9,242.11 L443.15,242.08 L443.4,242.04 L443.65,242 L443.9,241.96 L444.15,241.91 L444.4,241.87 L444.65,241.82 L444.9,241.77 L445.15,241.72 L445.4,241.66 L445.65,241.61 L445.9,241.55 L446.15,241.49 L446.4,241.42 L446.65,241.35 L446.9,241.28 L447.15,241.21 L447.4,241.13 L447.65,241.05 L447.9,240.97 L448.15,240.89 L448.4,240.8 L448.65,240.72 L448.9,240.63 L449.15,240.54 L449.4,240.45 L449.65,240.36 L449.9,240.26 L450.15,240.17 L450.4,240.07 L450.65,239.97 L450.9,239.87 L451.15,239.77 L451.4,239.66 L451.65,239.55 L451.9,239.44 L452.15,239.32 L452.4,239.2 L452.65,239.08 L452.9,238.96 L453.15,238.84 L453.4,238.71 L453.65,238.58 L453.9,238.44 L454.15,238.31 L454.4,238.17 L454.65,238.03 L454.9,237.89 L455.15,237.74 L455.4,237.59 L455.65,237.44 L455.9,237.28 L456.15,237.11 L456.4,236.94 L456.65,236.76 L456.9,236.57 L457.15,236.37 L457.4,236.17 L457.65,235.95 L457.9,235.73 L458.15,235.5 L458.4,235.27 L458.65,235.03 L458.9,234.77 L459.15,234.5 L459.4,234.2 L459.65,233.88 L459.9,233.54 L460.15,233.16 L460.4,232.76 L460.65,232.32 L460.9,231.84 L461.15,231.24 L461.4,230.48 L461.65,229.57 L461.9,228.56 L462.15,227.46 L462.4,226.32 L462.65,225.09 L462.9,223.61 L463.15,222.01 L463.4,220.42 L463.65,218.96 L463.9,217.66 L464.15,216.44 L464.4,215.23 L464.65,213.97 L464.9,212.61 L465.15,211.18 L465.4,209.71 L465.65,208.23 L465.9,206.78 L466.15,205.27 L466.4,203.75 L466.65,202.39 L466.9,201.35 L467.15,200.49 L467.4,199.92 L467.65,199.56 L467.9,199.44 L468.15,199.61 L468.4,199.91 L468.65,200.33 L468.9,200.91 L469.15,201.4 L469.4,201.82 L469.65,202.18 L469.9,202.35 L470.15,202.13 L470.4,201.5 L470.65,200.29 L470.9,197.9 L471.15,195.24 L471.4,192.39 L471.65,189.65 L471.9,186.87 L472.15,184.03 L472.4,181.16 L472.65,178.25 L472.9,175.31 L473.15,172.27 L473.4,169.3 L473.65,166.56 L473.9,164.09 L474.15,161.68 L474.4,159.11 L474.65,156.25 L474.9,153.17 L475.15,150.4 L476.4,150.4 L476.65,151.25 L476.9,153.86 L477.15,155.88 L477.4,157.73 L477.65,159.82 L477.9,162.18 L478.15,164.68 L478.4,167.23 L478.65,169.79 L478.9,172.39 L479.15,175.05 L479.4,177.78 L479.65,180.48 L479.9,183.24 L480.15,186.2 L480.4,189.57 L480.65,193.89 L480.9,197.85 L481.15,200.3 L481.4,202.16 L481.65,203.71 L481.9,205.09 L482.15,206.46 L482.4,207.78 L482.65,208.95 L482.9,210.12 L483.15,211.41 L483.4,212.97 L483.65,214.85 L483.9,216.8 L484.15,218.58 L484.4,220.21 L484.65,221.8 L484.9,223.29 L485.15,224.67 L485.4,225.88 L485.65,226.98 L485.9,228.03 L486.15,229 L486.4,229.91 L486.65,230.72 L486.9,231.42 L487.15,232.02 L487.4,232.56 L487.65,233.06 L487.9,233.53 L488.15,233.96 L488.4,234.37 L488.65,234.74 L488.9,235.09 L489.15,235.41 L489.4,235.7 L489.65,235.97 L489.9,236.22 L490.15,236.46 L490.4,236.68 L490.65,236.9 L490.9,237.1 L491.15,237.29 L491.4,237.47 L491.65,237.64 L491.9,237.8 L492.15,237.96 L492.4,238.11 L492.65,238.25 L492.9,238.39 L493.15,238.53 L493.4,238.66 L493.65,238.79 L493.9,238.91 L494.15,239.03 L494.4,239.14 L494.65,239.25 L494.9,239.36 L495.15,239.47 L495.4,239.57 L495.65,239.67 L495.9,239.76 L496.15,239.85 L496.4,239.94 L496.65,240.03 L496.9,240.12 L497.15,240.2 L497.4,240.29 L497.65,240.37 L497.9,240.45 L498.15,240.54 L498.4,240.62 L498.65,240.69 L498.9,240.77 L499.15,240.84 L499.4,240.92 L499.65,240.99 L499.9,241.06 L500.15,241.12 L500.4,241.19 L500.65,241.25 L500.9,241.31 L501.15,241.37 L501.4,241.42 L501.65,241.47 L501.9,241.52 L502.15,241.57 L502.4,241.61 L502.65,241.66 L502.9,241.7 L503.15,241.74 L503.4,241.78 L503.65,241.82 L503.9,241.86 L504.15,241.9 L504.4,241.94 L504.65,241.97 L504.9,242 L505.15,242.04 L505.4,242.07 L505.65,242.09 L505.9,242.12 L506.15,242.14 L506.4,242.17 L506.65,242.18 L506.9,242.2 L682.65,242.2" stroke="#8c8c8c" stroke-width="0.6" fill="none"/>
<path d="M378.4,244.2 L378.4,150.4 L683.2,150.4 L683.2,244.2 Z" stroke="#b2b2b2" stroke-width="1" fill="none"/>
<path d="M378.3,244.2 L378.3,246.2 M388.49,244.2 L388.49,246.2 M398.67,244.2 L398.67,246.2 M408.86,244.2 L408.86,246.2 M419.04,244.2 L419.04,246.2 M429.23,244.2 L429.23,246.2 M439.41,244.2 L439.41,246.2 M449.6,244.2 L449.6,246.2 M459.78,244.2 L459.78,246.2 M469.97,244.2 L469.97,246.2 M480.15,244.2 L480.15,246.2 M490.34,244.2 L490.34,246.2 M500.52,244.2 L500.52,246.2 M510.71,244.2 L510.71,246.2 M520.89,244.2 L520.89,246.2 M531.08,244.2 L531.08,246.2 M541.26,244.2 L541.26,246.2 M551.45,244.2 L551.45,246.2 M561.63,244.2 L561.63,246.2 M571.82,244.2 L571.82,246.2 M582,244.2 L582,246.2 M592.19,244.2 L592.19,246.2 M602.37,244.2 L602.37,246.2 M612.56,244.2 L612.56,246.2 M622.74,244.2 L622.74,246.2 M632.92,244.2 L632.92,246.2 M643.11,244.2 L643.11,246.2 M653.3,244.2 L653.3,246.2 M663.48,244.2 L663.48,246.2 M673.66,244.2 L673.66,246.2" stroke="#888" stroke-width="0.8"/>
<path d="M376.4,154.3 L378.4,154.3 M376.4,183.6 L378.4,183.6 M376.4,213.1 L378.4,213.1 M376.4,242.2 L378.4,242.2" stroke="#888" stroke-width="0.8"/>
<text x="376.1" y="156.4" text-anchor="end" font-family="&quot;Liberation Mono&quot;, monospace" font-size="6.1" fill="#6e6e6e">60,0</text>
<text x="376.1" y="185.7" text-anchor="end" font-family="&quot;Liberation Mono&quot;, monospace" font-size="6.1" fill="#6e6e6e">40,0</text>
<text x="376.1" y="215.2" text-anchor="end" font-family="&quot;Liberation Mono&quot;, monospace" font-size="6.1" fill="#6e6e6e">20,0</text>
<text x="376.1" y="244.3" text-anchor="end" font-family="&quot;Liberation Mono&quot;, monospace" font-size="6.1" fill="#6e6e6e">0,0</text>
<text x="378.3" y="252" text-anchor="middle" font-family="&quot;Liberation Mono&quot;, monospace" font-size="6.1" fill="#6e6e6e">0,00</text>
<text x="419.04" y="252" text-anchor="middle" font-family="&quot;Liberation Mono&quot;, monospace" font-size="6.1" fill="#6e6e6e">2,00</text>
<text x="459.78" y="252" text-anchor="middle" font-family="&quot;Liberation Mono&quot;, monospace" font-size="6.1" fill="#6e6e6e">4,00</text>
<text x="500.52" y="252" text-anchor="middle" font-family="&quot;Liberation Mono&quot;, monospace" font-size="6.1" fill="#6e6e6e">6,00</text>
<text x="541.26" y="252" text-anchor="middle" font-family="&quot;Liberation Mono&quot;, monospace" font-size="6.1" fill="#6e6e6e">8,00</text>
<text x="582" y="252" text-anchor="middle" font-family="&quot;Liberation Mono&quot;, monospace" font-size="6.1" fill="#6e6e6e">10,00</text>
<text x="622.74" y="252" text-anchor="middle" font-family="&quot;Liberation Mono&quot;, monospace" font-size="6.1" fill="#6e6e6e">12,00</text>
<text x="672.6" y="252" font-family="&quot;Liberation Mono&quot;, monospace" font-size="6.1" fill="#6e6e6e">min</text>
<text x="379.8" y="157.9" font-family="&quot;Liberation Mono&quot;, monospace" font-size="6.1" fill="#6e6e6e">CPS *1000</text>
<text x="672.4" y="157.9" font-family="&quot;Liberation Mono&quot;, monospace" font-size="6.1" fill="#6e6e6e">ChA</text>
<text transform="translate(408.2,236.4) rotate(-90)" font-family="&quot;Liberation Mono&quot;, monospace" font-size="6.1" fill="#6e6e6e">Free Gallium-68</text>
<text transform="translate(485.8,203.2) rotate(-90)" font-family="&quot;Liberation Mono&quot;, monospace" font-size="6.1" fill="#6e6e6e">[68Ga]Ga-AF594</text>
</svg></body></html>
